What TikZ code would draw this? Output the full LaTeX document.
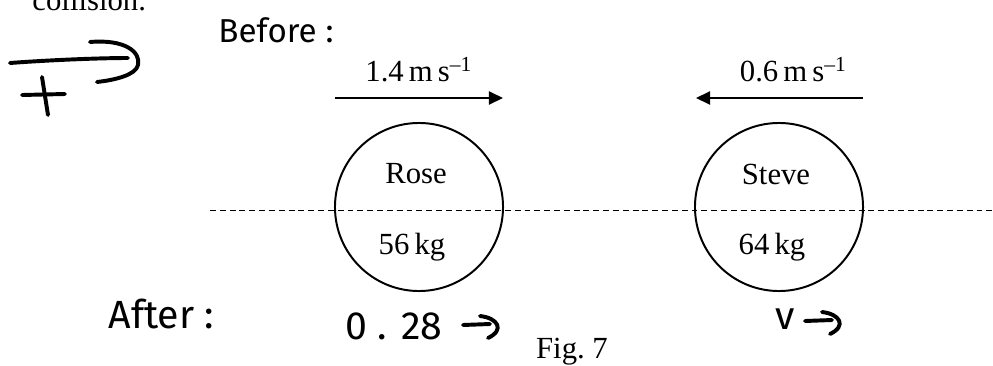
\documentclass[tikz,border=0pt,12pt]{standalone}
\usepackage{fontspec}
\setmainfont{Liberation Serif}
\newfontfamily\handfont{Fira Sans}
\usetikzlibrary{arrows.meta}
\tikzset{
  ball/.style={circle, draw, line width=0.8pt, minimum size=68.4pt, inner sep=0pt},
  vel/.style={line width=0.8pt, -{Triangle[length=5.7pt,width=5.3pt]}},
  hand/.style={line width=1.6pt, line cap=round, line join=round},
  handtext/.style={font=\handfont\fontsize{16}{16}\selectfont, inner sep=0pt},
}

\begin{document}
\begin{tikzpicture}[x=0.407pt, y=-0.407pt, every node/.append style={font=\fontsize{12.5}{14}\selectfont}]
\useasboundingbox (0,0) rectangle (993,365);
% end of the question text, cut by the top edge
\node[anchor=base west, inner sep=0pt] (qtext) at (32,10) {collision.};

% sign convention
\draw[hand] (10,63) .. controls (50,60) and (100,58) .. (128,58);
\draw[hand] (90,42) .. controls (125,39) and (141,52) .. (138,65) .. controls (136,75) and (115,80) .. (97,82);
\draw[hand] (22,95) -- (65,94);
\draw[hand] (42,77) -- (48,115);

\node[handtext, font=\handfont\fontsize{13.5}{13.5}\selectfont, anchor=west] (before) at (218,30) {Before :};
\node[handtext, anchor=west] (after) at (108,314) {After :};

% centre line
\draw[dashed, dash pattern=on 2.4pt off 1.6pt, line width=0.4pt] (210,210) -- (993,210);

% the two skaters
\foreach \nm/\x/\who/\m in {rose/419/Rose/56, steve/779/Steve/64} {
  \node[ball] (\nm) at (\x,207) {};
  \node (\nm-name) at (\x-3,174) {\who};
  \node (\nm-mass) at (\x-7,247) {\m\,kg};
};

% velocities before
\coordinate (rA) at (335,98);
\coordinate (rB) at (503,98);
\coordinate (sA) at (863,98);
\coordinate (sB) at (696,98);
\draw[vel] (rA) -- (rB) node[midway, above=2pt] (rV) {1.4\,m\,s\textsuperscript{\textendash1}};
\draw[vel] (sA) -- (sB) node[midway, above=2pt, xshift=5.7pt] (sV) {0.6\,m\,s\textsuperscript{\textendash1}};

% velocities after
\node[handtext, anchor=west] (uR) at (345,326) {0 . 28};
\node[handtext, anchor=west] (vS) at (775,319) {v};
\foreach \x/\y in {463/325, 805/321} {
  \draw[hand] (\x,\y) -- ++(27,-1);
  \draw[hand] (\x+17,\y-9) .. controls (\x+35,\y-7) and (\x+42,\y+5) .. (\x+25,\y+13);
};

\node (fig) at (572,352) {Fig.\ 7};
\end{tikzpicture}
\end{document}
